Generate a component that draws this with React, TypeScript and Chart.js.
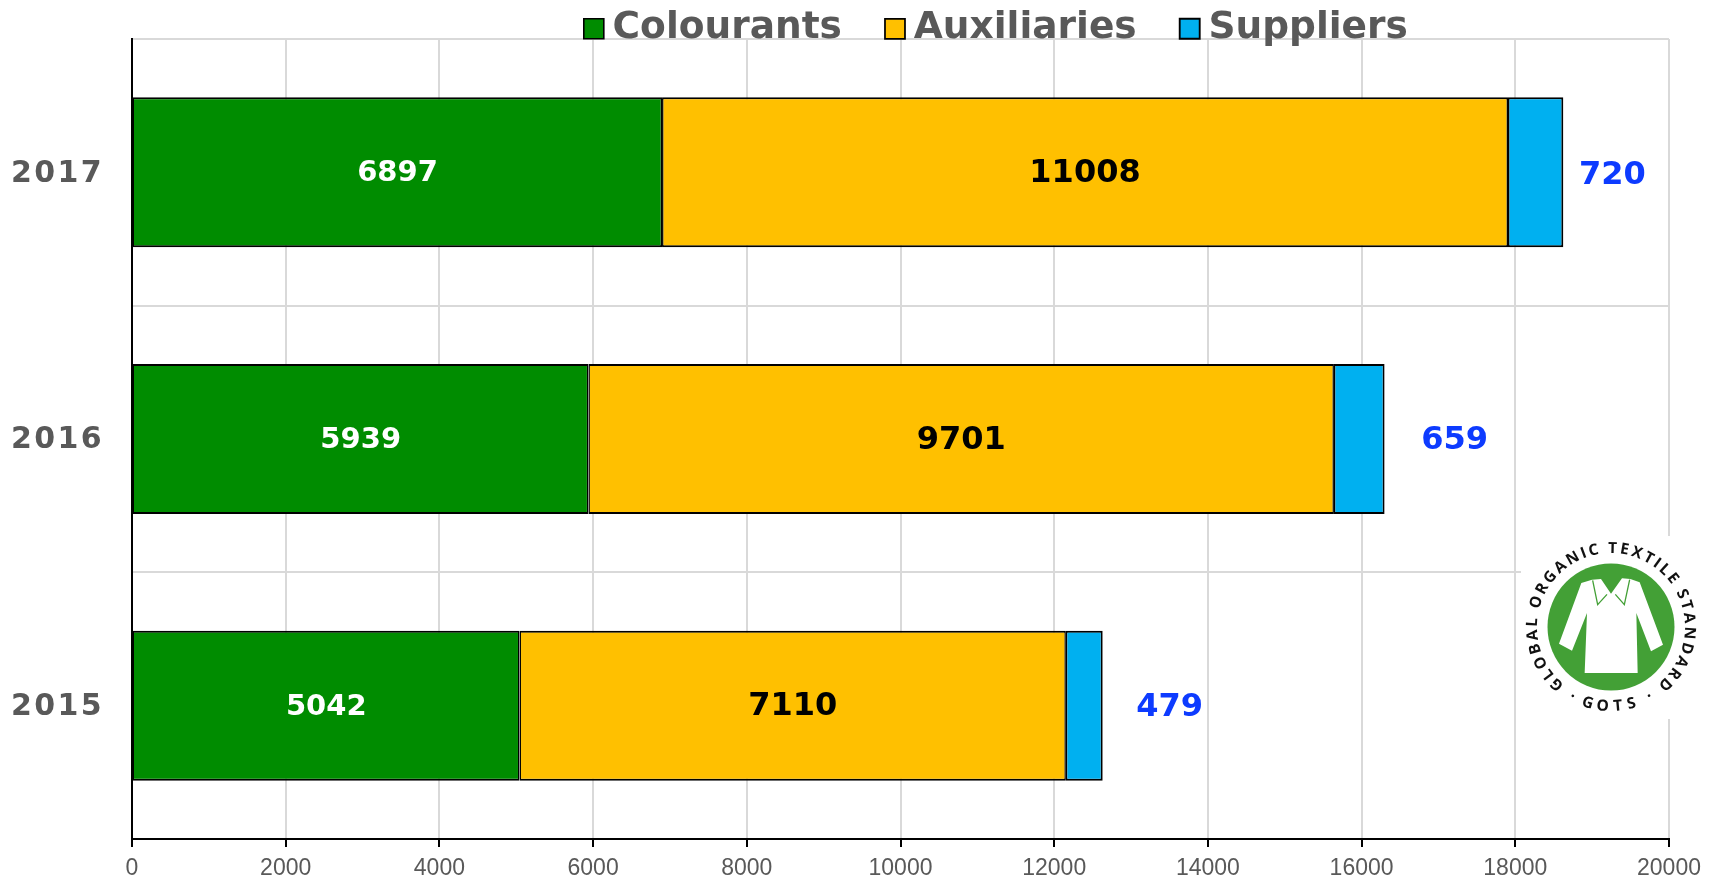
import React, { useEffect, useRef } from "react";
import { Chart, registerables } from "chart.js";

Chart.register(...registerables);

const years = ["2017", "2016", "2015"];
const colourants = [6897, 5939, 5042];
const auxiliaries = [11008, 9701, 7110];
const suppliers = [720, 659, 479];
const supplierLabelGap = [49, 70, 67];

const FONT = "'DejaVu Sans'";
const GREY = "#595959";

const shirt = [
  [303, 190], [335, 180], [362, 178], [392, 222], [425, 176], [450, 178], [478, 188],
  [548, 375], [512, 395], [468, 280], [472, 460], [313, 460], [320, 280], [275, 393], [236, 372],
];
const collarLines = [
  [[337, 182], [352, 255], [380, 224]],
  [[448, 180], [432, 255], [405, 224]],
];

function drawLogo(ctx: CanvasRenderingContext2D) {
  const cx = 1611;
  const cy = 627;
  const zx = (v: number) => cx + (v - 392) / 3;
  const zy = (v: number) => cy + (v - 322) / 3;
  ctx.save();
  ctx.fillStyle = "#ffffff";
  ctx.fillRect(1521, 536, 149, 183);
  ctx.fillStyle = "#43A036";
  ctx.beginPath();
  ctx.arc(cx, cy, 63.5, 0, Math.PI * 2);
  ctx.fill();

  const poly = (pts: number[][]) => {
    ctx.beginPath();
    pts.forEach(([x, y], i) => (i ? ctx.lineTo(zx(x), zy(y)) : ctx.moveTo(zx(x), zy(y))));
  };
  ctx.fillStyle = "#ffffff";
  poly(shirt);
  ctx.closePath();
  ctx.fill();
  ctx.strokeStyle = "#43A036";
  ctx.lineWidth = 1.3;
  collarLines.forEach((l) => {
    poly(l);
    ctx.stroke();
  });

  ctx.fillStyle = "#111111";
  ctx.font = `700 15.5px 'Open Sans'`;
  ctx.textAlign = "center";
  ctx.textBaseline = "alphabetic";
  const top = "GLOBAL ORGANIC TEXTILE STANDARD";
  const start = (-142 * Math.PI) / 180;
  const end = (142 * Math.PI) / 180;
  const widths = Array.from(top).map((c) => ctx.measureText(c).width + 1.9);
  const total = widths.reduce((a, b) => a + b, 0);
  let acc = 0;
  Array.from(top).forEach((c, i) => {
    const a = start + ((acc + widths[i] / 2) / total) * (end - start);
    acc += widths[i];
    ctx.save();
    ctx.translate(cx + Math.sin(a) * 74, cy - Math.cos(a) * 74);
    ctx.rotate(a);
    ctx.fillText(c, 0, 0);
    ctx.restore();
  });
  const bottom = ["·", "G", "O", "T", "S", "·"];
  const angles = [-29, -17, -6, 5, 15, 29];
  bottom.forEach((c, i) => {
    const a = (angles[i] * Math.PI) / 180;
    ctx.save();
    ctx.translate(cx + Math.sin(a) * 84, cy + Math.cos(a) * 84);
    ctx.rotate(-a);
    ctx.fillText(c, 0, 0);
    ctx.restore();
  });
  ctx.restore();
}

const layoutPlugin = {
  id: "layoutFix",
  beforeLayout(chart: any) {
    const legend = chart.legend;
    if (legend && !legend.__patched) {
      const fit = legend.fit;
      legend.fit = function () {
        fit.call(this);
        this.height = 39;
      };
      legend.__patched = true;
    }
    const y = chart.scales.y;
    if (y && !y.__patched) {
      const draw = y.drawLabels;
      y.drawLabels = function (area: any) {
        const c = this.ctx;
        c.save();
        c.translate(0, 1.5);
        c.letterSpacing = "2.4px";
        draw.call(this, area);
        c.letterSpacing = "0px";
        c.restore();
      };
      y.__patched = true;
    }
  },
  afterLayout(chart: any) {
    const legend = chart.legend;
    const padding = legend.options.labels.padding;
    legend.left += 166.3;
    legend.right += 166.3;
    legend.top = 10 - padding;
    legend.bottom = 70;
  },
};

const labelPlugin = {
  id: "barLabels",
  afterDatasetsDraw(chart: any) {
    const ctx: CanvasRenderingContext2D = chart.ctx;
    ctx.save();
    ctx.textAlign = "center";
    ctx.textBaseline = "middle";
    chart.data.datasets.forEach((ds: any, d: number) => {
      chart.getDatasetMeta(d).data.forEach((bar: any, i: number) => {
        const text = String(ds.data[i]);
        if (d === 2) {
          ctx.font = `bold 32px ${FONT}`;
          ctx.fillStyle = "#0D3BFF";
          ctx.fillText(text, bar.x + supplierLabelGap[i], bar.y + (i === 0 ? 3.5 : 2));
        } else {
          const b = bar.getProps(["x", "base"], true);
          ctx.font = d === 0 ? `bold 29px ${FONT}` : `bold 32px ${FONT}`;
          ctx.fillStyle = d === 0 ? "#ffffff" : "#000000";
          ctx.fillText(text, (b.x + b.base) / 2, bar.y + 1.5);
        }
      });
    });
    ctx.restore();
    drawLogo(ctx);
  },
};

export default function App() {
  const ref = useRef<HTMLCanvasElement>(null);
  useEffect(() => {
    const dataset = (label: string, data: number[], color: string, left: number, right: number) => ({
      label,
      data,
      backgroundColor: color,
      borderColor: "#000000",
      borderWidth: { left, right, top: 2, bottom: 2 },
      borderSkipped: false,
      barPercentage: 0.5625,
      categoryPercentage: 1,
    });
    const chart = new Chart(ref.current!, {
      type: "bar",
      data: {
        labels: years,
        datasets: [
          dataset("Colourants", colourants, "#008C00", 1, 1.5),
          dataset("Auxiliaries", auxiliaries, "#FFC000", 1.5, 1.5),
          dataset("Suppliers", suppliers, "#00B0F0", 1.5, 2),
        ],
      },
      plugins: [layoutPlugin, labelPlugin],
      options: {
        indexAxis: "y",
        responsive: false,
        animation: false,
        layout: { padding: { right: 46 } },
        plugins: {
          tooltip: { enabled: false },
          title: { display: false },
          legend: {
            position: "top",
            labels: {
              usePointStyle: true,
              pointStyle: "rect",
              boxWidth: 0.1,
              boxHeight: 20,
              padding: 53,
              color: GREY,
              font: { family: FONT, weight: "bold", size: 37.5 },
            },
          },
        },
        scales: {
          x: {
            stacked: true,
            min: 0,
            max: 20000,
            afterFit: (s: any) => {
              s.height = 39;
            },
            border: { color: "#000000", width: 2 },
            grid: { color: "#D9D9D9", lineWidth: 2, tickColor: "#000000", tickLength: 8, tickWidth: 2 },
            ticks: {
              stepSize: 2000,
              maxRotation: 0,
              autoSkip: false,
              padding: 8,
              color: GREY,
              font: { family: "'Liberation Sans'", size: 23 },
              callback: (v: any) => String(v),
            },
          },
          y: {
            stacked: true,
            afterFit: (s: any) => {
              s.width = 132;
              s.paddingTop = 0;
              s.paddingBottom = 0;
            },
            border: { color: "#000000", width: 2 },
            grid: { color: "#D9D9D9", lineWidth: 2, drawTicks: false },
            ticks: {
              padding: 28,
              color: GREY,
              font: { family: FONT, weight: "bold", size: 30 },
            },
          },
        },
      },
    } as any);
    return () => chart.destroy();
  }, []);
  return (
    <div style={{ position: "absolute", left: 0, top: 0, width: 1715, height: 878, background: "#fff" }}>
      <canvas ref={ref} width={1715} height={878} style={{ display: "block" }} />
    </div>
  );
}
